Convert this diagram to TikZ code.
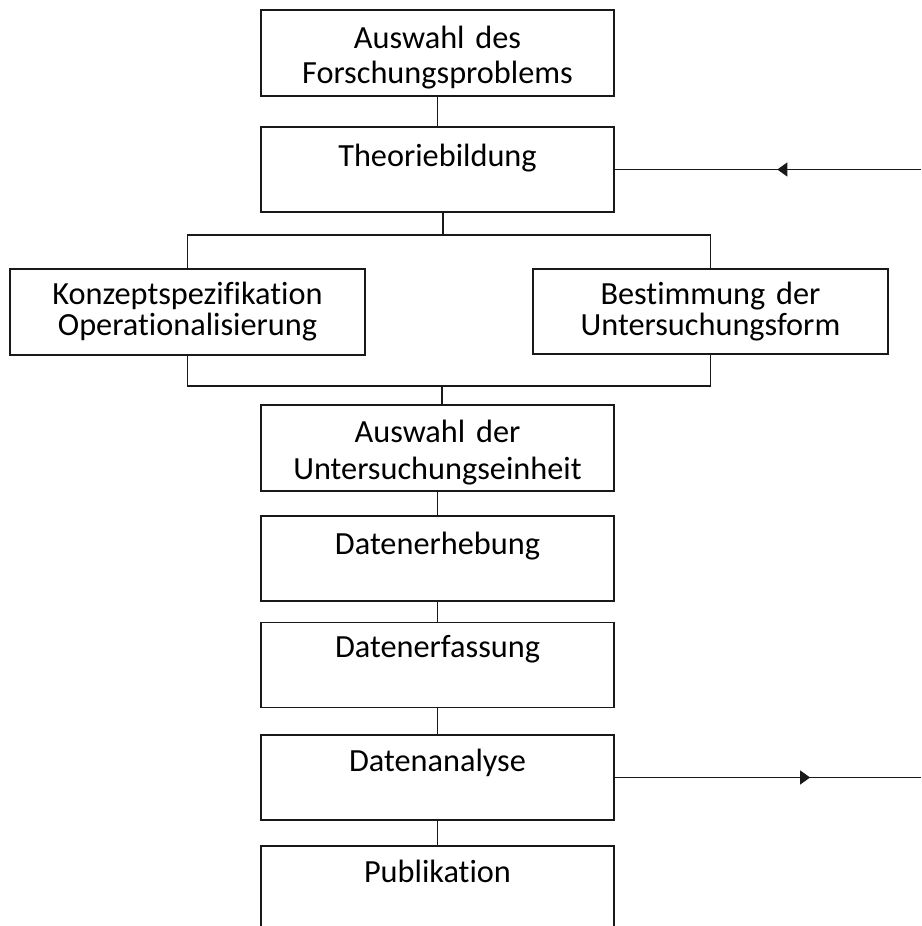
\documentclass[tikz,border=0pt]{standalone}
\usepackage{fontspec}
\setmainfont{Carlito}[RawFeature=-liga, WordSpace=0.6]
\usetikzlibrary{arrows.meta,decorations.markings}
\begin{document}
\begin{tikzpicture}[x=1pt,y=-1pt,
  box/.style={draw=black!90, line width=1.3pt, minimum width=353pt, minimum height=85pt, inner sep=0pt},
  wbox/.style={box, minimum width=355pt},
  lbl/.style={anchor=base, align=center, inner sep=0pt, text width=350pt, font=\fontsize{32.3}{#1}\selectfont},
  lbl/.default=36,
  conn/.style={draw=black!90, line width=1.3pt},
  arrowmark/.style={postaction={decorate}, decoration={markings, mark=at position #1 with {\arrow{Triangle[length=10pt,width=14pt]}}}}
]
\useasboundingbox (0,0) rectangle (921,926);
\clip (0,0) rectangle (921,926);

% boxes
\node[box, minimum height=86pt] (b1) at (437.5,53) {};
\node[box] (b2) at (437.5,169.5) {};
\node[wbox, minimum height=86pt] (kl) at (187.5,312) {};
\node[wbox] (kr) at (710.5,311.5) {};
\node[box, minimum height=86pt] (b3) at (437.5,448) {};
\node[box] (b4) at (437.5,558.5) {};
\node[box] (b5) at (437.5,665) {};
\node[box] (b6) at (437.5,777.5) {};
\node[box, minimum height=110pt] (b7) at (437.5,901) {};

% labels
\node[lbl=35] (t1) at ([yshift=-39pt]b1.north) {Auswahl des\\Forschungsproblems};
\node[lbl] (t2) at ([yshift=-40pt]b2.north) {Theoriebildung};
\node[lbl=31] (tl) at ([yshift=-36pt]kl.north) {Konzeptspezifikation\\Operationalisierung};
\node[lbl=31] (tr) at ([yshift=-36pt]kr.north) {Bestimmung der\\Untersuchungsform};
\node[lbl=37] (t3) at ([yshift=-38pt]b3.north) {Auswahl der\\Untersuchungseinheit};
\node[lbl] (t4) at ([yshift=-39pt]b4.north) {Datenerhebung};
\node[lbl] (t5) at ([yshift=-36pt]b5.north) {Datenerfassung};
\node[lbl] (t6) at ([yshift=-37pt]b6.north) {Datenanalyse};
\node[lbl] (t7) at ([yshift=-37pt]b7.north) {Publikation};

% connectors
\coordinate (j1) at (443,235);
\coordinate (j2) at (442,386);
\coordinate (rt) at (921,169.5);
\coordinate (rb) at (921,777.5);
\draw[conn] (b1.south) -- (b2.north);
\draw[conn] (b2.south -| j1) -- (j1);
\draw[conn] (kl.north) |- (j1) -| (kr.north);
\draw[conn] (kl.south) |- (j2) -| (kr.south);
\draw[conn] (j2) -- (b3.north -| j2);
\draw[conn] (b3.south) -- (b4.north);
\draw[conn] (b4.south) -- (b5.north);
\draw[conn] (b5.south) -- (b6.north);
\draw[conn] (b6.south) -- (b7.north);
\draw[conn, arrowmark=0.469] (rt) -- (b2.east);
\draw[conn, arrowmark=0.638] (b6.east) -- (rb);
\end{tikzpicture}
\end{document}
